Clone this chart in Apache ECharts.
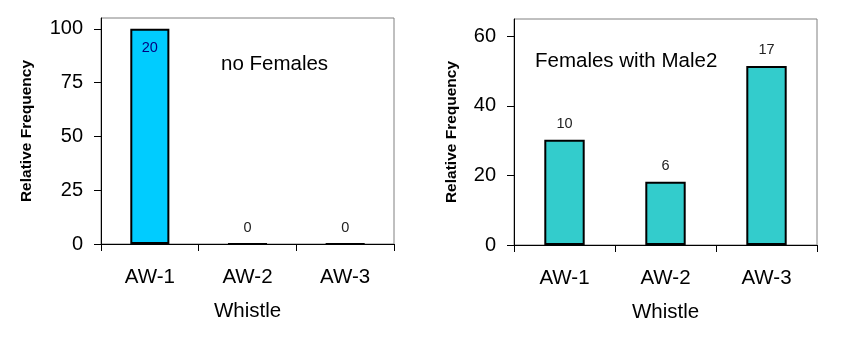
<!DOCTYPE html>
<html>
<head>
<meta charset="utf-8">
<script src="https://cdn.jsdelivr.net/npm/echarts@6/dist/echarts.min.js"></script>
<style>
html,body{margin:0;padding:0;background:#fff;}
#chart{width:847px;height:342px;}
</style>
</head>
<body>
<div id="chart"></div>
<script>
var categories = ['AW-1', 'AW-2', 'AW-3'];
var noFemalesPct = [100, 0, 0];
var noFemalesCounts = [20, 0, 0];
var male2Pct = [30.3, 18.2, 51.5];
var male2Counts = [10, 6, 17];
var leftTicks = [0, 25, 50, 75, 100];
var rightTicks = [0, 20, 40, 60];
var leftNote = 'no Females';
var rightNote = 'Females with Male2';
var xTitle = 'Whistle';
var yTitle = 'Relative Frequency';

var FONT = '"Liberation Sans", Arial, sans-serif';
var chart = echarts.init(document.getElementById('chart'));

function xAxisCfg(gi) {
  return {
    type: 'category', gridIndex: gi, data: categories,
    boundaryGap: true,
    axisLine: { lineStyle: { color: '#000', width: 1 } },
    axisTick: { show: true, alignWithLabel: false, length: 7, lineStyle: { color: '#000' } },
    axisLabel: { fontFamily: FONT, fontSize: 20.5, color: '#000', margin: 23 },
    name: xTitle, nameLocation: 'middle', nameGap: 57,
    nameTextStyle: { fontFamily: FONT, fontSize: 20.5, color: '#000' }
  };
}
function yAxisCfg(gi, max, interval, ticks, gap) {
  return {
    type: 'value', gridIndex: gi, min: 0, max: max, interval: interval,
    splitLine: { show: false },
    axisLine: { show: true, lineStyle: { color: '#000', width: 1 } },
    axisTick: { show: true, length: 7, lineStyle: { color: '#000' }, customValues: ticks },
    axisLabel: { fontFamily: FONT, fontSize: 20, color: '#000', margin: 18, customValues: ticks },
    name: yTitle, nameLocation: 'middle', nameGap: gap,
    nameTextStyle: { fontFamily: FONT, fontSize: 15.5, fontWeight: 'bold', color: '#000' }
  };
}

var leftData = noFemalesPct.map(function (v, i) {
  if (v > 10) {
    return { value: v, label: { position: 'insideTop', distance: 12, color: '#000080' } };
  }
  return v;
});

chart.setOption({
  animation: false,
  backgroundColor: '#fff',
  grid: [
    { left: 101, right: 453, top: 18, bottom: 98, show: true, borderColor: '#808080', borderWidth: 1, backgroundColor: 'transparent' },
    { left: 514, right: 30, top: 19, bottom: 97, show: true, borderColor: '#808080', borderWidth: 1, backgroundColor: 'transparent' }
  ],
  xAxis: [xAxisCfg(0), xAxisCfg(1)],
  yAxis: [yAxisCfg(0, 105, 25, leftTicks, 66), yAxisCfg(1, 65, 20, rightTicks, 54)],
  series: [
    {
      type: 'bar', xAxisIndex: 0, yAxisIndex: 0, data: leftData, barWidth: '40%',
      itemStyle: { color: '#00CCFF', borderColor: '#000', borderWidth: 2 },
      label: {
        show: true, position: 'top', distance: 8, fontFamily: FONT, fontSize: 14.5, color: '#222',
        formatter: function (p) { return String(noFemalesCounts[p.dataIndex]); }
      }
    },
    {
      type: 'bar', xAxisIndex: 1, yAxisIndex: 1, data: male2Pct, barWidth: '40%',
      itemStyle: { color: '#33CCCC', borderColor: '#000', borderWidth: 2 },
      label: {
        show: true, position: 'top', distance: 8, fontFamily: FONT, fontSize: 14.5, color: '#222',
        formatter: function (p) { return String(male2Counts[p.dataIndex]); }
      }
    }
  ],
  graphic: [
    { type: 'text', x: 221, y: 64, style: { text: leftNote, font: '20.5px ' + FONT, fill: '#000', textVerticalAlign: 'middle' } },
    { type: 'text', x: 535, y: 61, style: { text: rightNote, font: '20.5px ' + FONT, fill: '#000', textVerticalAlign: 'middle' } }
  ]
});
</script>
</body>
</html>
